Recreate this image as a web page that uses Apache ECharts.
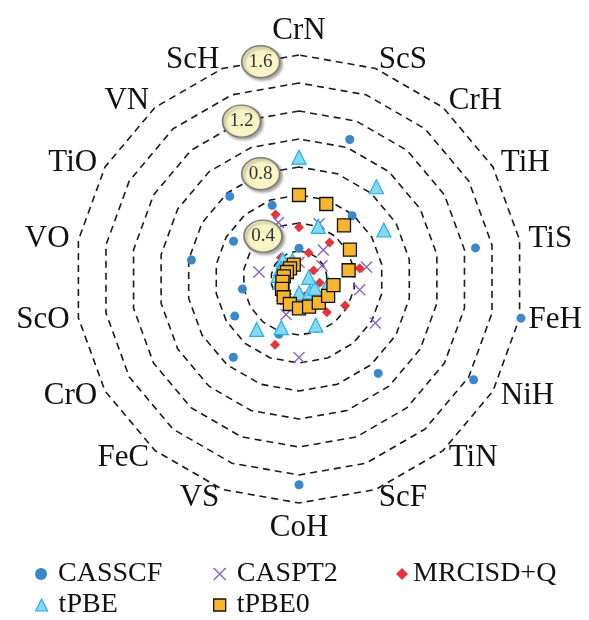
<!DOCTYPE html>
<html><head><meta charset="utf-8">
<script src="https://cdn.jsdelivr.net/npm/echarts@6/dist/echarts.min.js"></script>
<style>html,body{margin:0;padding:0;background:#fff}#c{width:589px;height:620px}</style>
</head><body><div id="c"></div>
<script>
// categories in clockwise order starting at the top
const categories = ['CrN','ScS','CrH','TiH','TiS','FeH','NiH','TiN','ScF','CoH','VS','FeC','CrO','ScO','VO','TiO','VN','ScH'];
const casscf  = [0.22,1.06,0.59,0.44,1.28,1.61,1.44,0.88,0.20,1.47,0.42,0.73,0.53,0.41,0.78,0.54,0.77,0.56];
const caspt2  = [0.12,0.42,0.27,0.19,0.49,0.44,0.63,0.15,0.12,0.56,0.27,0.15,0.12,0.12,0.29,0.12,0.15,0.43];
const mrcisdq = [0.37,0.20,0.34,0.12,0.44,0.15,0.38,0.31,0.13,0.15,0.50,0.20,0.15,0.12,0.12,0.15,0.20,0.49];
const tpbe    = [0.87,0.40,0.86,0.70,0.07,0.21,0.13,0.12,0.35,0.10,0.37,0.47,0.12,0.14,0.15,0.15,0.18,0.14];
const tpbe0   = [0.60,0.57,0.50,0.42,0.36,0.25,0.24,0.22,0.21,0.21,0.19,0.17,0.14,0.12,0.11,0.10,0.10,0.11];
const tickValues = [0.4,0.8,1.2,1.6];
const tickLabels = ['0.4','0.8','1.2','1.6'];
const axisMax = 1.6;

// ECharts radar runs counter-clockwise; reorder so the reading order is clockwise
const n = categories.length;
const order = categories.map((_, i) => (n - i) % n);
const reorder = arr => order.map(i => arr[i]);

// where each tick bubble sits: fractional category index (clockwise); x.5 = middle of a ring edge
const bubbleAnchor = [16, 17, 17, 17.5];
const step = 360 / n;
const bubbleData = tickValues.map((v, k) => {
  const a = bubbleAnchor[k];
  const off = a - Math.floor(a);
  const d = Math.min(off, 1 - off) * step;
  return { name: tickLabels[k], value: [v * Math.cos(d * Math.PI / 180), a * step] };
});

const serif = 'Liberation Serif';
const cBlue = '#3a87cb', cPurple = '#8a63c2', cRed = '#e6343d', cCyanF = '#86d9f3', cCyanB = '#22b0e6', cOrange = '#f8b62d';
const xPath = 'path://M0,0L10,10M10,0L0,10';

function radarSeries(name, vals, symbol, size, itemStyle, z) {
  return {
    type: 'radar', name: name, symbol: symbol, symbolSize: size, z: z,
    lineStyle: { width: 0, opacity: 0 },
    itemStyle: itemStyle,
    emphasis: { disabled: true },
    data: [{ name: name, value: reorder(vals) }]
  };
}

function legendItem(item, left, top, pad) {
  return {
    orient: 'horizontal', left: left, top: top, padding: 0, itemWidth: 12, itemHeight: 12, selectedMode: false,
    textStyle: { fontFamily: serif, fontSize: 28, color: '#111', lineHeight: 28, padding: [0, 0, 0, pad] },
    data: [item]
  };
}

const chart = echarts.init(document.getElementById('c'), null, { renderer: 'canvas' });
chart.setOption({
  animation: false,
  backgroundColor: '#fff',
  legend: [
    legendItem({ name: 'CASSCF', icon: 'circle', itemStyle: { color: cBlue } }, 35, 560, 6),
    legendItem({ name: 'CASPT2', icon: xPath, itemStyle: { color: 'transparent', borderColor: cPurple, borderWidth: 1.4 } }, 213, 560, 6),
    legendItem({ name: 'MRCISD+Q', icon: 'diamond', itemStyle: { color: cRed } }, 396, 560, 0),
    legendItem({ name: 'tPBE', icon: 'triangle', itemStyle: { color: cCyanF, borderColor: cCyanB, borderWidth: 1.2 } }, 35, 591, 6),
    legendItem({ name: 'tPBE0', icon: 'rect', itemStyle: { color: cOrange, borderColor: '#111', borderWidth: 1.3 } }, 213, 591, 6)
  ],
  radar: {
    center: [299, 279], radius: 224, startAngle: 90, shape: 'polygon', splitNumber: 8,
    indicator: order.map(i => ({ name: categories[i], min: 0, max: axisMax })),
    axisName: { color: '#111', fontFamily: serif, fontSize: 31 },
    axisNameGap: 9,
    axisLine: { show: false }, axisTick: { show: false }, axisLabel: { show: false },
    splitLine: { lineStyle: { color: '#1a1a1a', width: 1.6, type: [7, 5] } },
    splitArea: { show: false }
  },
  polar: { center: [299, 279], radius: 224 },
  angleAxis: { type: 'value', min: 0, max: 360, startAngle: 90, clockwise: true, show: false },
  radiusAxis: { type: 'value', min: 0, max: axisMax, show: false },
  series: [
    radarSeries('CASSCF', casscf, 'circle', 9, { color: cBlue }, 2),
    radarSeries('CASPT2', caspt2, xPath, 11, { color: 'transparent', borderColor: cPurple, borderWidth: 1.4 }, 3),
    radarSeries('MRCISD+Q', mrcisdq, 'diamond', 10, { color: cRed }, 4),
    radarSeries('tPBE', tpbe, 'triangle', 14, { color: cCyanF, borderColor: cCyanB, borderWidth: 1.2 }, 5),
    radarSeries('tPBE0', tpbe0, 'rect', 13, { color: cOrange, borderColor: '#111', borderWidth: 1.3 }, 6),
    {
      type: 'scatter', coordinateSystem: 'polar', z: 10, silent: true,
      symbol: 'circle', symbolSize: [38, 32],
      itemStyle: { color: '#f8f4c6', borderColor: '#7a7a70', borderWidth: 1.5, opacity: 1,
        shadowBlur: 3, shadowColor: 'rgba(0,0,0,0.35)', shadowOffsetX: 2, shadowOffsetY: 2 },
      label: { show: true, position: 'inside', formatter: '{b}', fontFamily: serif, fontSize: 19, color: '#333' },
      emphasis: { disabled: true },
      data: bubbleData
    }
  ]
});
</script>
</body></html>
